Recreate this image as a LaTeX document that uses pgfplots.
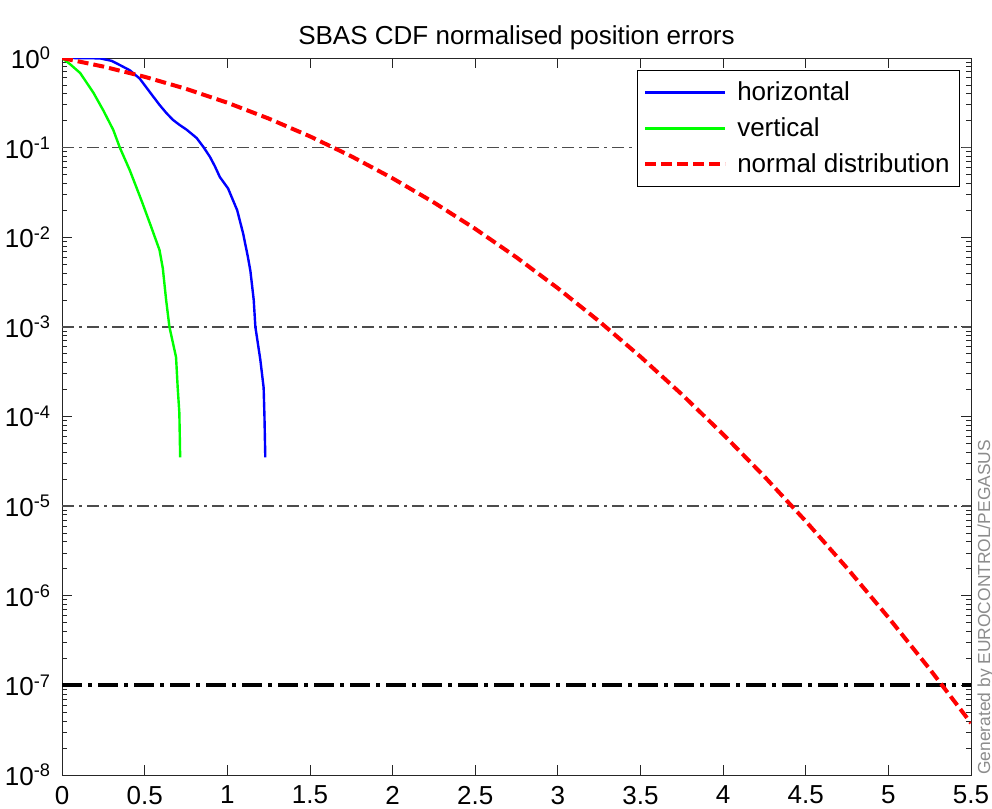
\documentclass[border=0pt]{standalone}
\usepackage{fontspec}
\setmainfont{Liberation Sans}
\usepackage{pgfplots}
\pgfplotsset{compat=1.18}

\newcommand{\lbl}{\fontsize{13}{15.5}\selectfont}

\begin{document}
\begin{tikzpicture}
\begin{axis}[
    name=ax,
    scale only axis,
    width=454.5pt, height=358.5pt,
    xmin=0, xmax=5.5,
    ymode=log,
    ymin=1e-8, ymax=1,
    xtick={0,0.5,1,1.5,2,2.5,3,3.5,4,4.5,5,5.5},
    ytick={1e-8,1e-7,1e-6,1e-5,1e-4,1e-3,1e-2,1e-1,1},
    yticklabels={10\textsuperscript{-8},10\textsuperscript{-7},10\textsuperscript{-6},10\textsuperscript{-5},10\textsuperscript{-4},10\textsuperscript{-3},10\textsuperscript{-2},10\textsuperscript{-1},10\textsuperscript{0}},
    minor ytick={2e-8,3e-8,4e-8,5e-8,6e-8,7e-8,8e-8,9e-8,
                 2e-7,3e-7,4e-7,5e-7,6e-7,7e-7,8e-7,9e-7,
                 2e-6,3e-6,4e-6,5e-6,6e-6,7e-6,8e-6,9e-6,
                 2e-5,3e-5,4e-5,5e-5,6e-5,7e-5,8e-5,9e-5,
                 2e-4,3e-4,4e-4,5e-4,6e-4,7e-4,8e-4,9e-4,
                 2e-3,3e-3,4e-3,5e-3,6e-3,7e-3,8e-3,9e-3,
                 0.02,0.03,0.04,0.05,0.06,0.07,0.08,0.09,
                 0.2,0.3,0.4,0.5,0.6,0.7,0.8,0.9},
    /pgf/number format/assume math mode=true,
    tick label style={font=\lbl},
    xticklabel style={yshift=-2pt},
    yticklabel style={xshift=-2pt},
    tick align=inside,
    xtick pos=both, ytick pos=both,
    major tick length=5pt, minor tick length=2.5pt,
    axis line style={black!85},
    every tick/.style={black!85},
    title={SBAS CDF normalised position errors},
    title style={font=\lbl, yshift=-5.5pt},
    legend style={at={(0.988,0.983)}, anchor=north east, draw=black, fill=white,
        font=\lbl, row sep=3pt, inner xsep=3pt, inner ysep=3.5pt},
    legend cell align=left,
    legend image code/.code={\draw[#1] (0pt,0pt) -- (40pt,0pt); \path (43pt,0pt);},
]
% reference levels
\addplot[forget plot, black!70, line width=0.7pt, dash pattern=on 6pt off 2.5pt on 1.5pt off 2.5pt]
    coordinates {(0,1e-1)(5.5,1e-1)};
\addplot[forget plot, black!70, line width=0.7pt, dash pattern=on 6pt off 2.5pt on 1.5pt off 2.5pt]
    coordinates {(0,1e-3)(5.5,1e-3)};
\addplot[forget plot, black!70, line width=0.7pt, dash pattern=on 6pt off 2.5pt on 1.5pt off 2.5pt]
    coordinates {(0,1e-5)(5.5,1e-5)};
\addplot[forget plot, black, line width=2pt, dash pattern=on 10pt off 3pt on 2pt off 3pt]
    coordinates {(0,1e-7)(5.5,1e-7)};

\addplot[blue, line width=1.2pt] coordinates {
    (0,1)(0.12,0.998)(0.23,0.99)(0.30,0.93)(0.35,0.835)(0.41,0.73)(0.47,0.59)
    (0.53,0.42)(0.59,0.30)(0.63,0.245)(0.67,0.205)(0.71,0.18)(0.755,0.158)
    (0.815,0.128)(0.855,0.102)(0.895,0.079)(0.925,0.062)(0.955,0.047)
    (1.005,0.035)(1.06,0.020)(1.096,0.011)(1.125,0.006)(1.14,0.0042)
    (1.16,0.002)(1.17,0.001)(1.20,4.3e-4)(1.22,2.1e-4)(1.225,1e-4)(1.23,3.5e-5)
};
\addlegendentry{horizontal}

\addplot[green, line width=1.2pt] coordinates {
    (0,1)(0.05,0.85)(0.11,0.68)(0.19,0.41)(0.25,0.26)(0.31,0.158)(0.35,0.1)
    (0.41,0.056)(0.48,0.026)(0.54,0.013)(0.59,0.0072)(0.61,0.0045)(0.63,0.002)
    (0.65,0.001)(0.69,4.6e-4)(0.70,2.1e-4)(0.71,1.1e-4)(0.715,3.5e-5)
};
\addlegendentry{vertical}

\addplot[red, line width=2pt, dash pattern=on 5.5pt off 2.5pt] coordinates {
    (0,1)(0.25,0.80259)(0.5,0.61708)(0.75,0.45325)(1,0.31731)(1.25,0.21130)
    (1.5,0.13361)(1.75,0.08012)(2,0.04550)(2.25,0.02445)(2.5,0.01242)
    (2.75,0.00596)(3,0.0026998)(3.25,0.001154)(3.5,4.653e-4)(3.75,1.768e-4)
    (4,6.334e-5)(4.25,2.138e-5)(4.5,6.795e-6)(4.75,2.035e-6)(5,5.733e-7)
    (5.25,1.521e-7)(5.5,3.798e-8)
};
\addlegendentry{normal distribution}
\end{axis}
\node[rotate=90, anchor=north west, inner sep=0pt, text=black!45,
      font=\fontsize{8.7}{10}\selectfont] at ([xshift=3pt]ax.south east)
      {Generated by EUROCONTROL/PEGASUS};
\pgfresetboundingbox
\path ([shift={(-31pt,-16.5pt)}]ax.south west) rectangle ([shift={(10.5pt,29pt)}]ax.north east);
\end{tikzpicture}
\end{document}
